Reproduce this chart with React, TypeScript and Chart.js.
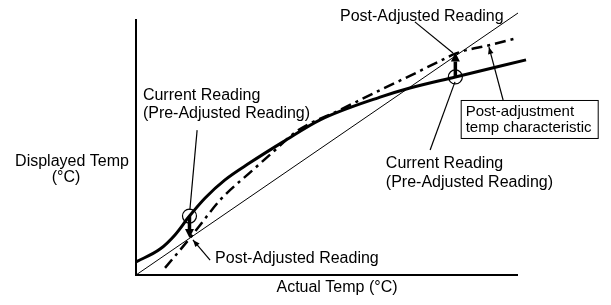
import React, { useEffect, useRef } from "react";
import { Chart, registerables } from "chart.js";

Chart.register(...registerables);

// Pre-adjustment (current) temperature characteristic
const currentX = [0, 6.3, 10.2, 14.0, 18.1, 23.3, 29.8, 38.5, 48.2, 63.9, 71.7, 83.6, 102.1];
const currentY = [5.0, 9.9, 15.3, 22.5, 29.4, 36.3, 42.8, 50.8, 59.2, 67.9, 71.4, 75.6, 82.1];

// Post-adjustment temperature characteristic
const adjustedX = [7.6, 13.9, 16.8, 22.0, 30.6, 35.6, 42.2, 53.4, 63.9, 71.7, 79.6, 83.8, 92.7, 100];
const adjustedY = [2.7, 13.7, 19.1, 28.6, 40.1, 46.6, 55.0, 63.0, 70.6, 76.0, 81.7, 84.6, 87.8, 90.5];

// Ideal line (displayed = actual)
const idealX = [0, 100];
const idealY = [0, 100];

// Current readings (circled) and the post-adjusted readings they move to
const readingX = [14.0, 83.6];
const readingY = [22.5, 75.6];
const postX = [14.0, 83.6];
const postY = [14.1, 84.9];

// Axis extents
const axisX = [0, 0, 100];
const axisY = [97.7, 0, 0];

// Labels
const xTitle = "Actual Temp (°C)";
const yTitle = ["Displayed Temp", "(°C)"];
const labelTopPost = "Post-Adjusted Reading";
const labelLeftCurrent = ["Current Reading", "(Pre-Adjusted Reading)"];
const labelBottomPost = "Post-Adjusted Reading";
const labelRightCurrent = ["Current Reading", "(Pre-Adjusted Reading)"];
const labelBox = ["Post-adjustment", "temp characteristic"];

// Leader lines (data coordinates): [x1, y1, x2, y2, arrowAtEnd]
const leaders: [number, number, number, number, boolean][] = [
  [16.0, 55.3, 14.1, 24.8, false],
  [73.0, 96.6, 83.0, 84.7, false],
  [77.0, 47.7, 83.5, 73.7, false],
  [96.1, 66.8, 92.4, 87.0, true],
  [19.4, 5.7, 14.9, 13.4, true],
];

const FONT = "16px 'Liberation Sans', Arial, sans-serif";
const BOX_FONT = "15px 'Liberation Sans', Arial, sans-serif";

const zip = (xs: number[], ys: number[]) => xs.map((x, i) => ({ x, y: ys[i] }));

const annotationPlugin = {
  id: "annotations",
  afterDatasetsDraw(chart: any) {
    const ctx = chart.ctx as CanvasRenderingContext2D;
    const xs = chart.scales.x;
    const ys = chart.scales.y;
    const px = (v: number) => xs.getPixelForValue(v);
    const py = (v: number) => ys.getPixelForValue(v);
    ctx.save();
    ctx.fillStyle = "#000";
    ctx.strokeStyle = "#000";

    // thick arrows from reading to post-adjusted reading
    for (let i = 0; i < readingX.length; i++) {
      const x1 = px(readingX[i]);
      const y1 = py(readingY[i]);
      const x2 = px(postX[i]);
      const y2 = py(postY[i]);
      const dir = Math.sign(y2 - y1);
      const headLen = 9;
      ctx.lineWidth = 3.5;
      ctx.beginPath();
      ctx.moveTo(x1, y1);
      ctx.lineTo(x2, y2 - dir * headLen);
      ctx.stroke();
      ctx.beginPath();
      ctx.moveTo(x2, y2);
      ctx.lineTo(x2 - 4.5, y2 - dir * headLen);
      ctx.lineTo(x2 + 4.5, y2 - dir * headLen);
      ctx.closePath();
      ctx.fill();
    }

    // leader lines
    ctx.lineWidth = 1.2;
    for (const [a, b, c, d, arrow] of leaders) {
      const x1 = px(a), y1 = py(b), x2 = px(c), y2 = py(d);
      ctx.beginPath();
      ctx.moveTo(x1, y1);
      ctx.lineTo(x2, y2);
      ctx.stroke();
      if (arrow) {
        const ang = Math.atan2(y2 - y1, x2 - x1);
        const L = 7, W = 2.8;
        ctx.beginPath();
        ctx.moveTo(x2, y2);
        ctx.lineTo(x2 - L * Math.cos(ang) + W * Math.sin(ang), y2 - L * Math.sin(ang) - W * Math.cos(ang));
        ctx.lineTo(x2 - L * Math.cos(ang) - W * Math.sin(ang), y2 - L * Math.sin(ang) + W * Math.cos(ang));
        ctx.closePath();
        ctx.fill();
      }
    }

    // texts
    ctx.font = FONT;
    ctx.textBaseline = "alphabetic";
    ctx.textAlign = "left";
    ctx.fillText(labelTopPost, px(53.4), py(96.9));
    ctx.fillText(labelLeftCurrent[0], px(1.8), py(66.8));
    ctx.fillText(labelLeftCurrent[1], px(1.8), py(66.8) + 18.5);
    ctx.fillText(labelBottomPost, px(20.7), py(4.6));
    ctx.fillText(labelRightCurrent[0], px(65.4), py(40.8));
    ctx.fillText(labelRightCurrent[1], px(65.4), py(40.8) + 19);

    // boxed label
    const bx = px(85.0), by = py(66.8);
    ctx.fillStyle = "#fff";
    ctx.fillRect(bx, by, 137, 38);
    ctx.lineWidth = 1;
    ctx.strokeRect(bx + 0.5, by + 0.5, 137, 38);
    ctx.fillStyle = "#000";
    ctx.font = BOX_FONT;
    ctx.fillText(labelBox[0], bx + 5, by + 16);
    ctx.fillText(labelBox[1], bx + 5, by + 32);

    // axis titles
    ctx.font = FONT;
    const area = chart.chartArea;
    ctx.textAlign = "center";
    ctx.fillText(xTitle, (area.left + area.right) / 2 + 10, area.bottom + 17);
    ctx.fillText(yTitle[0], 72, 166);
    ctx.fillText(yTitle[1], 66, 182);
    ctx.restore();
  },
};

export default function App() {
  const ref = useRef<HTMLCanvasElement>(null);
  useEffect(() => {
    if (!ref.current) return;
    const chart = new Chart(ref.current, {
      type: "line",
      data: {
        datasets: [
          {
            label: "axes",
            data: zip(axisX, axisY),
            borderColor: "#000",
            borderWidth: 2,
            pointRadius: 0,
            tension: 0,
            clip: false,
          } as any,
          {
            label: "readings",
            data: zip(readingX, readingY),
            showLine: false,
            pointRadius: 7,
            pointBorderWidth: 1.2,
            pointBorderColor: "#000",
            pointBackgroundColor: "rgba(255,255,255,0)",
            clip: false,
          } as any,
          {
            label: "current",
            data: zip(currentX, currentY),
            borderColor: "#000",
            borderWidth: 3,
            pointRadius: 0,
            cubicInterpolationMode: "monotone",
            clip: false,
          } as any,
          {
            label: "adjusted",
            data: zip(adjustedX, adjustedY),
            borderColor: "#000",
            borderWidth: 2.5,
            borderDash: [11, 5, 3, 5],
            pointRadius: 0,
            cubicInterpolationMode: "monotone",
            clip: false,
          } as any,
          {
            label: "ideal",
            data: zip(idealX, idealY),
            borderColor: "#000",
            borderWidth: 1,
            pointRadius: 0,
            clip: false,
          } as any,
        ],
      },
      options: {
        animation: false,
        responsive: false,
        devicePixelRatio: 1,
        layout: { padding: { left: 136, top: 13, right: 93, bottom: 30 } },
        plugins: { legend: { display: false }, tooltip: { enabled: false } },
        events: [],
        scales: {
          x: { type: "linear", min: 0, max: 100, display: false },
          y: { type: "linear", min: 0, max: 100, display: false },
        },
      },
      plugins: [annotationPlugin],
    });
    return () => chart.destroy();
  }, []);
  return (
    <div style={{ position: "fixed", left: 0, top: 0, width: 611, height: 305, background: "#fff" }}>
      <canvas ref={ref} width={611} height={305} />
    </div>
  );
}
